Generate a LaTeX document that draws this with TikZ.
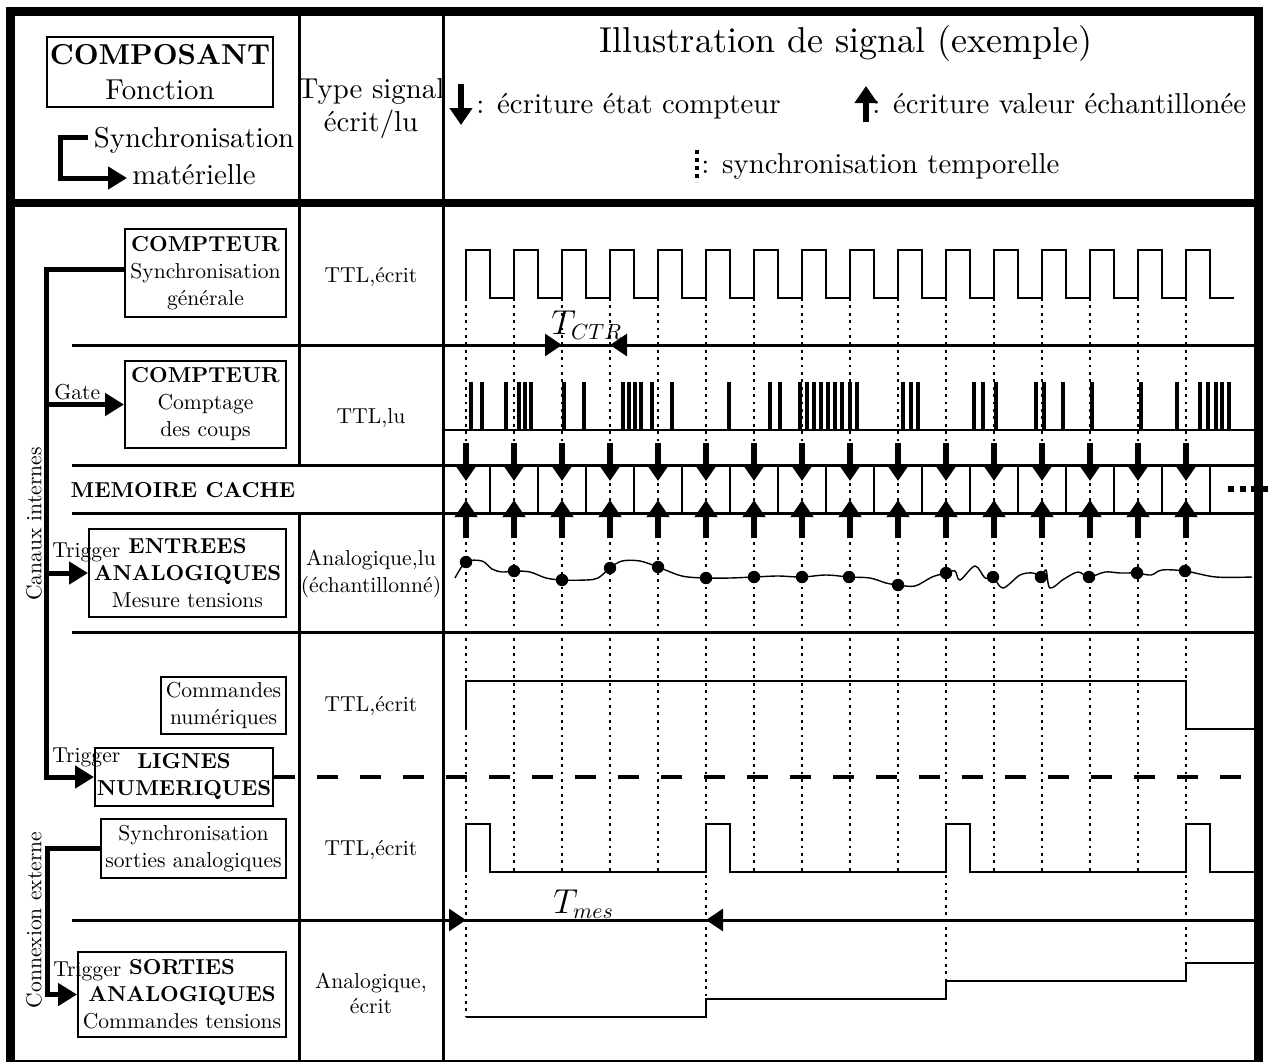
\documentclass[tikz,border=0pt]{standalone}
\usepackage{fontspec}
\setmainfont{lmroman10-regular.otf}[BoldFont=lmroman10-bold.otf, ItalicFont=lmroman10-italic.otf, BoldItalicFont=lmroman10-bolditalic.otf]
\usetikzlibrary{arrows.meta}
\begin{document}
\begin{tikzpicture}[x=0.5pt,y=-0.5pt,
  outer/.style={line width=4.5pt},
  headsep/.style={line width=4pt},
  rowline/.style={line width=1.5pt},
  sig/.style={line width=1.1pt, line join=miter},
  hair/.style={line width=0.6pt},
  syncline/.style={line width=1pt, dash pattern=on 1.4pt off 2.3pt},
  comp/.style={draw, line width=1pt, align=center, inner sep=0pt, font=\fontsize{10.8}{13.5}\selectfont},
  txt/.style={inner sep=0pt, font=\fontsize{10.8}{13.5}\selectfont},
  hdtxt/.style={inner sep=0pt, font=\fontsize{14.4}{17.5}\selectfont},
  link/.style={line width=2.5pt, line join=miter, -{Triangle[length=9.5pt,width=11pt]}},
  marker/.style={line width=2.6pt, -{Triangle[length=8.5pt,width=11pt]}},
  period/.style={line width=1.5pt, -{Triangle[length=8.5pt,width=11pt]}},
  pulse/.style={line width=2.4pt},
]
\useasboundingbox (0,0) rectangle (1268,1061);

% ---------- frame and grid ----------
\draw[outer] (10,11) rectangle (1258,1064);
\draw[headsep] (10,203) -- (1258,203);
\draw[rowline] (299,11) -- (299,465);
\draw[rowline] (299,513) -- (299,1064);
\draw[rowline] (443,11) -- (443,1064);
\foreach \yy in {345,465,513,632,920} \draw[rowline] (72,\yy) -- (1258,\yy);
\draw[hair] (443,430) -- (1258,430);
\foreach \k in {0,...,15} \draw[hair] ({490+48*\k},465) -- ({490+48*\k},513);
\draw[line width=3pt, dash pattern=on 3.2pt off 2.6pt] (1228,489) -- (1272,489);

% ---------- header ----------
\node[comp, font=\fontsize{14.4}{17.5}\selectfont, minimum width=113pt, minimum height=35pt] (composant) at (160,72) {\textbf{COMPOSANT}\\Fonction};
\node[hdtxt, anchor=base] (lgs1) at (194,147) {Synchronisation};
\node[hdtxt, anchor=base] (lgs2) at (194,184) {matérielle};
\coordinate (lg1) at (88,137);
\coordinate (lg2) at (60,137);
\coordinate (lg3) at (60,178);
\coordinate (lg4) at (127,178);
\draw[link] (lg1) -- (lg2) -- (lg3) -- (lg4);
\node[hdtxt, anchor=base] (ts1) at (371,98) {Type signal};
\node[hdtxt, anchor=base] (ts2) at (371,131) {écrit/lu};
\node[inner sep=0pt, font=\fontsize{18}{21}\selectfont, anchor=base] (title) at (846,52) {Illustration de signal (exemple)};
\coordinate (ld1) at (461,84);
\coordinate (ld2) at (461,125);
\draw[marker] (ld1) -- (ld2);
\node[hdtxt, anchor=base west] (legdown) at (476,113) {: écriture état compteur};
\coordinate (lu1) at (866,122);
\coordinate (lu2) at (866,86);
\draw[marker] (lu1) -- (lu2);
\node[hdtxt, anchor=base west] (legup) at (872,113) {: écriture valeur échantillonée};
\coordinate (ls1) at (697,150);
\coordinate (ls2) at (697,182);
\draw[line width=2pt, dash pattern=on 2pt off 2pt] (ls1) -- (ls2);
\node[hdtxt, anchor=base west] (legsync) at (701,173) {: synchronisation temporelle};

% ---------- component boxes ----------
\node[comp, minimum width=80.5pt, minimum height=44pt] (comp1) at (205.5,273) {\textbf{COMPTEUR}\\Synchronisation\\générale};
\node[comp, minimum width=80.5pt, minimum height=43.5pt] (comp2) at (205.5,404.5) {\textbf{COMPTEUR}\\Comptage\\des coups};
\node[txt, font=\bfseries\fontsize{10.8}{13.5}\selectfont, anchor=base] (cache) at (183,497) {MEMOIRE CACHE};
\node[comp, minimum width=98.5pt, minimum height=44pt] (entrees) at (187.5,573) {\textbf{ENTREES}\\\textbf{ANALOGIQUES}\\Mesure tensions};
\node[comp, minimum width=62.5pt, minimum height=28.5pt] (cmdnum) at (223.5,705.5) {Commandes\\numériques};
\node[comp, minimum width=89pt, minimum height=29pt] (lignes) at (184,777) {\textbf{LIGNES}\\\textbf{NUMERIQUES}};
\node[comp, minimum width=92.5pt, minimum height=29.5pt] (syncao) at (193.5,848.5) {Synchronisation\\sorties analogiques};
\node[comp, minimum width=104pt, minimum height=42.5pt] (sorties) at (182,994.5) {\textbf{SORTIES}\\\textbf{ANALOGIQUES}\\Commandes tensions};

\node[txt, rotate=90] (canaux) at (34,524) {Canaux internes};
\node[txt, rotate=90] (connexion) at (34,920) {Connexion externe};

% ---------- hardware links ----------
\coordinate (trunkbot) at (46,777);
\coordinate (tgate) at (46,404.5);
\coordinate (ttrig) at (46,573);
\draw[link] ([yshift=2pt]comp1.west) -| (trunkbot) -- (lignes.west);
\draw[link] (tgate) -- (comp2.west);
\draw[link] (ttrig) -- (entrees.west);
\coordinate (extcorner) at (47,994.5);
\draw[link] (syncao.west) -| (extcorner) -- (sorties.west);
\node[txt, anchor=base west] (gate) at (54,399) {Gate};
\node[txt, anchor=base west] (trig1) at (52,557) {Trigger};
\node[txt, anchor=base west] (trig2) at (52,762) {Trigger};
\node[txt, anchor=base west] (trig3) at (53,976) {Trigger};

% ---------- signal types ----------
\node[txt, anchor=base] (ty1) at (371,282) {TTL,écrit};
\node[txt, anchor=base] (ty2) at (371,423) {TTL,lu};
\node[txt, anchor=base] (ty3a) at (371,565) {Analogique,lu};
\node[txt, anchor=base] (ty3b) at (371,592) {(échantillonné)};
\node[txt, anchor=base] (ty4) at (371,711) {TTL,écrit};
\node[txt, anchor=base] (ty5) at (371,855) {TTL,écrit};
\node[txt, anchor=base] (ty6a) at (371,988) {Analogique,};
\node[txt, anchor=base] (ty6b) at (371,1013) {écrit};

% ---------- time synchronisation lines ----------
\foreach \k in {1,2,3,4,6,7,8,9,11,12,13,14} \draw[syncline] ({466+48*\k},298) -- ({466+48*\k},872);
\draw[syncline] (466,298) -- (466,1017);
\draw[syncline] (706,298) -- (706,999);
\draw[syncline] (946,298) -- (946,981);
\draw[syncline] (1186,298) -- (1186,963);

% ---------- clock ----------
\draw[sig] (466,298) \foreach \k in {0,...,15} { |- ({490+48*\k},250) |- ({514+48*\k},298) };

% ---------- period T_CTR ----------
\coordinate (pa1) at (540,345);
\coordinate (pa2) at (562,345);
\coordinate (pb1) at (632,345);
\coordinate (pb2) at (610,345);
\draw[period] (pa1) -- (pa2);
\draw[period] (pb1) -- (pb2);
\node[inner sep=0pt, anchor=base west, font=\fontsize{16}{18}\selectfont] (tctr) at (551,334) {$T_{CTR}$};

% ---------- counted pulses ----------
\foreach \xx in {471,482,506,519,525,531,564,584,623,629,635,641,652,672,729,770,780,800,807,814,821,828,835,842,850,857,903,911,918,974,983,996,1036,1044,1063,1092,1141,1177,1200,1208,1216,1222,1229}
  \draw[pulse] (\xx,382) -- (\xx,430);

% ---------- cache arrows ----------
\foreach \k in {0,...,15} {
  \draw[marker] ({466+48*\k},443) -- ({466+48*\k},481);
  \draw[marker] ({466+48*\k},538) -- ({466+48*\k},500);
}

% ---------- analog input ----------
\draw[line width=0.7pt] plot[smooth, tension=0.55] coordinates {
 (455,578) (466,562) (482,561) (492,569) (502,572) (514,571) (530,572) (546,578) (562,580)
 (586,580) (598,578) (610,568) (622,561) (640,561) (658,567) (682,576) (706,578)
 (730,578) (754,577) (778,576) (802,577) (826,575) (849,577) (870,578) (886,583) (898,585)
 (915,586) (932,577) (946,573) (955,571) (960,580) (975,566) (985,578) (993,577)
 (1003,588) (1020,575) (1033,573) (1041,577) (1046,570) (1050,588) (1064,579) (1078,572)
 (1089,577) (1105,572) (1120,573) (1137,573) (1151,575) (1162,570) (1185,571) (1216,577) (1252,577)};
\foreach \xx/\yy in {466/562,514/571,562/580,610/568,658/567,706/578,754/577,802/577,849/577,898/585,946/573,993/577,1041/577,1089/577,1137/573,1185/571}
  \fill (\xx,\yy) circle (3.1pt);

% ---------- digital commands ----------
\draw[sig] (466,730) -- (466,681) -- (1186,681) -- (1186,729) -- (1258,729);
\draw[line width=2pt, dash pattern=on 10.5pt off 11pt] (lignes.east) -- (1258,777);

% ---------- analog output sync ----------
\draw[sig] (466,872) -- (466,824) -- (490,824) -- (490,872) -- (706,872) -- (706,824) -- (730,824) -- (730,872)
  -- (946,872) -- (946,824) -- (970,824) -- (970,872) -- (1186,872) -- (1186,824) -- (1210,824) -- (1210,872) -- (1258,872);

% ---------- period T_mes ----------
\coordinate (ma1) at (440,920);
\coordinate (ma2) at (466,920);
\coordinate (mb1) at (732,920);
\coordinate (mb2) at (706,920);
\draw[period] (ma1) -- (ma2);
\draw[period] (mb1) -- (mb2);
\node[inner sep=0pt, anchor=base west, font=\fontsize{16}{18}\selectfont] (tmes) at (553,913) {$T_{mes}$};

% ---------- analog output staircase ----------
\draw[line width=1.2pt, line join=miter] (466,1017) -- (706,1017) -- (706,999) -- (946,999) -- (946,981) -- (1186,981) -- (1186,963) -- (1258,963);
\end{tikzpicture}
\end{document}
